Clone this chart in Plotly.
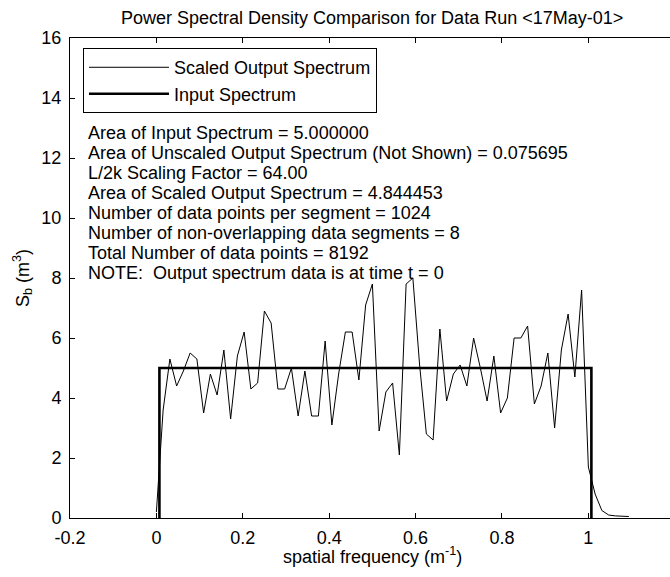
import plotly.graph_objects as go

# Scaled output spectrum, sampled every 1/64 m^-1 starting at 0
freq_step = 1.0 / 64
output_psd = [
    0.2, 3.6, 5.3, 4.4, 4.9, 5.5, 5.3, 3.5, 4.8, 4.1,
    5.6, 3.3, 5.4, 6.2, 4.3, 4.5, 6.9, 6.5, 4.3, 4.3,
    5.0, 3.4, 4.9, 3.4, 3.4, 5.9, 3.1, 4.8, 6.2, 6.2,
    4.6, 7.1, 7.8, 2.9, 4.2, 4.5, 2.1, 7.8, 8.0, 5.1,
    2.8, 2.6, 6.3, 3.9, 4.8, 5.1, 4.4, 6.0, 5.0, 3.9,
    5.4, 3.5, 4.0, 6.0, 6.0, 6.4, 3.8, 4.4, 5.5, 3.0,
    5.6, 6.8, 4.7, 7.6, 1.7, 0.8, 0.25, 0.1, 0.07, 0.07,
    0.05,
]
output_freq = [i * freq_step for i in range(len(output_psd))]

# Input spectrum: flat band of height 5 and width 1 (area 5)
input_edges = [0.007, 1.007]
input_level = 5.0

x_ticks = [-0.2, 0, 0.2, 0.4, 0.6, 0.8, 1.0]
x_tick_labels = ["-0.2", "0", "0.2", "0.4", "0.6", "0.8", "1"]
y_ticks = [0, 2, 4, 6, 8, 10, 12, 14, 16]
y_tick_labels = ["0", "2", "4", "6", "8", "10", "12", "14", "16"]

info_lines = [
    "Area of Input Spectrum = 5.000000",
    "Area of Unscaled Output Spectrum (Not Shown) = 0.075695",
    "L/2k Scaling Factor = 64.00",
    "Area of Scaled Output Spectrum = 4.844453",
    "Number of data points per segment = 1024",
    "Number of non-overlapping data segments = 8",
    "Total Number of data points = 8192",
    "NOTE:  Output spectrum data is at time t = 0",
]
info_top = 12.667
info_step = 0.667

FONT = "Liberation Sans, Arial, Helvetica, sans-serif"
FS = 18

fig = go.Figure()

fig.add_trace(go.Scatter(
    x=output_freq, y=output_psd, mode="lines",
    name="Scaled Output Spectrum",
    line=dict(color="black", width=1),
))

in_x = [input_edges[0], input_edges[0], input_edges[1], input_edges[1]]
in_y = [0, input_level, input_level, 0]
fig.add_trace(go.Scatter(
    x=in_x, y=in_y, mode="lines",
    name="Input Spectrum",
    line=dict(color="black", width=2.6),
))

annotations = []
for k, txt in enumerate(info_lines):
    annotations.append(dict(
        x=-0.162, y=info_top - info_step * k + 0.18, xref="x", yref="y",
        text=txt, showarrow=False, xanchor="left", yanchor="middle",
        font=dict(family=FONT, size=FS, color="black"),
    ))

annotations.append(dict(
    x=0.5, y=1.0417, xref="x", yref="paper",
    text="Power Spectral Density Comparison for Data Run &lt;17May-01&gt;",
    showarrow=False, xanchor="center", yanchor="middle",
    font=dict(family=FONT, size=FS, color="black"),
))
annotations.append(dict(
    x=0.5, y=-0.079, xref="x", yref="paper",
    text="spatial frequency (m<sup>-1</sup>)",
    showarrow=False, xanchor="center", yanchor="middle",
    font=dict(family=FONT, size=FS, color="black"),
))
annotations.append(dict(
    x=-0.08, y=0.5, xref="paper", yref="paper",
    text="S<sub>b</sub> (m<sup>3</sup>)", textangle=-90,
    showarrow=False, xanchor="center", yanchor="middle",
    font=dict(family=FONT, size=FS, color="black"),
))

fig.update_layout(
    width=670, height=577, autosize=False,
    margin=dict(l=70, r=0, t=38, b=59, pad=0),
    paper_bgcolor="white", plot_bgcolor="white",
    font=dict(family=FONT, size=FS, color="black"),
    showlegend=True,
    legend=dict(
        x=0.0217, y=0.979, xanchor="left", yanchor="top",
        bgcolor="white", bordercolor="black", borderwidth=1,
        font=dict(family=FONT, size=FS, color="black"),
        itemwidth=80, traceorder="normal",
    ),
    annotations=annotations,
    xaxis=dict(
        range=[-0.2, 1.189], tickmode="array",
        tickvals=x_ticks, ticktext=x_tick_labels,
        ticks="inside", ticklen=5, tickcolor="black",
        showline=True, linecolor="black", linewidth=1, mirror="ticks",
        showgrid=False, zeroline=False, ticklabelstandoff=3,
        tickfont=dict(family=FONT, size=FS, color="black"),
    ),
    yaxis=dict(
        range=[0, 16], tickmode="array",
        tickvals=y_ticks, ticktext=y_tick_labels,
        ticks="inside", ticklen=5, tickcolor="black",
        showline=True, linecolor="black", linewidth=1, mirror=False,
        showgrid=False, zeroline=False, ticklabelstandoff=4,
        tickfont=dict(family=FONT, size=FS, color="black"),
    ),
    yaxis2=dict(
        overlaying="y", side="right", range=[0, 16],
        tickmode="array", tickvals=y_ticks,
        ticks="inside", ticklen=3, tickcolor="black",
        showticklabels=False, showline=False,
        showgrid=False, zeroline=False,
    ),
)

fig.write_html("out.html")
